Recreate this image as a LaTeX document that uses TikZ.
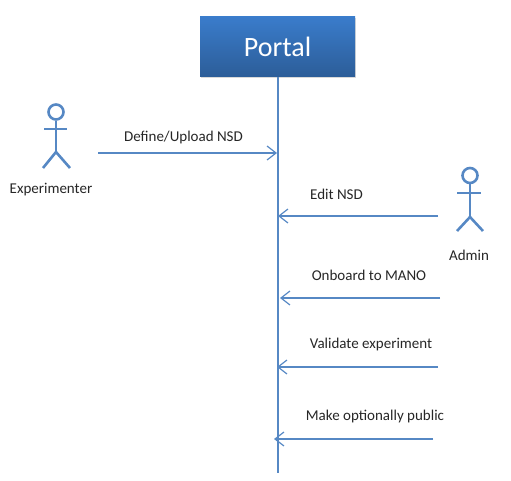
\documentclass[tikz,border=0pt]{standalone}
\usepackage{fontspec}
\setmainfont{Carlito}
\usetikzlibrary{shadows}
\usetikzlibrary{arrows.meta}
\definecolor{lineblue}{RGB}{86,136,196}
\definecolor{boxtop}{RGB}{58,124,203}
\definecolor{boxbottom}{RGB}{44,93,152}
\tikzset{
    portal/.style={rectangle, top color=boxtop, bottom color=boxbottom, text=white, minimum width=155pt, minimum height=60pt, font=\fontsize{28}{32}\selectfont, drop shadow={shadow xshift=0.5pt, shadow yshift=-1.5pt, opacity=0.3}},
    msg/.style={-{Straight Barb[length=9pt, width=14pt, line width=1.2pt]}, lineblue, line width=1.4pt},
    lifeline/.style={lineblue, line width=1.4pt},
    stick/.style={lineblue, line width=2.6pt},
    label/.style={font=\fontsize{15}{18}\selectfont, text=black!85, inner sep=0pt}
}
\begin{document}
\begin{tikzpicture}[x=1pt, y=-1pt]
\useasboundingbox (0,0) rectangle (511,481);

% Portal and its line
\node[portal] (portal) at (277.5,47) {Portal};
\coordinate (lineend) at (278,473);
\draw[lifeline] (portal.south -| lineend) -- (lineend);

% Experimenter
\node[stick, draw, circle, inner sep=0pt, minimum size=15pt] (exphead) at (56,112) {};
\coordinate (exphip) at (56,152);
\coordinate (expleft) at (43,168);
\coordinate (expright) at (70,168);
\coordinate (expa) at (44,129);
\coordinate (expb) at (67,129);
\draw[stick] (exphead) -- (exphip);
\draw[stick] (expa) -- (expb);
\draw[stick] (expleft) -- (exphip) -- (expright);
\node[label] (exp) at (51,190) {Experimenter};

% Admin
\node[stick, draw, circle, inner sep=0pt, minimum size=15pt] (adhead) at (470,175.5) {};
\coordinate (adhip) at (470,217);
\coordinate (adleft) at (457,231);
\coordinate (adright) at (483,231);
\coordinate (ada) at (457,193);
\coordinate (adb) at (481,193);
\draw[stick] (adhead) -- (adhip);
\draw[stick] (ada) -- (adb);
\draw[stick] (adleft) -- (adhip) -- (adright);
\node[label] (admin) at (469,255) {Admin};

% Messages
\coordinate (m1a) at (98,153);
\coordinate (m1b) at (277,153);
\draw[msg] (m1a) -- (m1b);
\node[label] (m1) at (183.5,138) {Define/Upload NSD};

\coordinate (m2a) at (438,216);
\coordinate (m2b) at (278,216);
\draw[msg] (m2a) -- (m2b);
\node[label] (m2) at (336.5,194) {Edit NSD};

\coordinate (m3a) at (440,298);
\coordinate (m3b) at (280,298);
\draw[msg] (m3a) -- (m3b);
\node[label] (m3) at (369,275) {Onboard to MANO};

\coordinate (m4a) at (438,367);
\coordinate (m4b) at (277,367);
\draw[msg] (m4a) -- (m4b);
\node[label] (m4) at (371,344) {Validate experiment};

\coordinate (m5a) at (433,439);
\coordinate (m5b) at (274,439);
\draw[msg] (m5a) -- (m5b);
\node[label] (m5) at (375,416) {Make optionally public};
\end{tikzpicture}
\end{document}
